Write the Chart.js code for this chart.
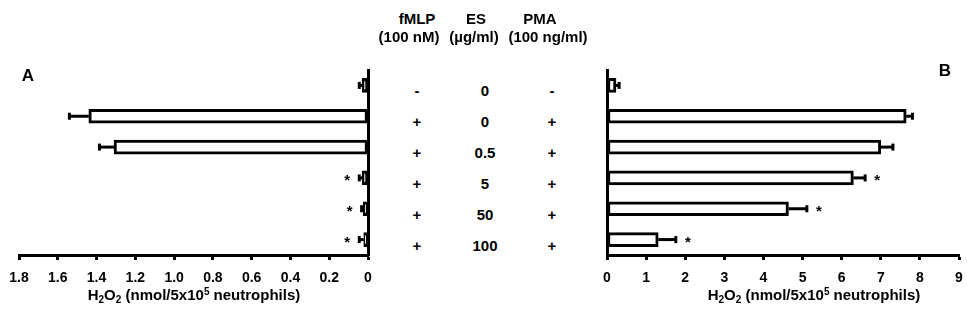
<!DOCTYPE html>
<html>
<head>
<meta charset="utf-8">
<script src="https://cdn.jsdelivr.net/npm/chart.js@4"></script>
<style>
  body { margin: 0; background: #fff; }
  #wrap { position: relative; width: 967px; height: 327px; font-family: "Liberation Sans", Arial, sans-serif; }
  canvas { position: absolute; top: 0; }
  #chartA { left: 0; }
  #chartB { left: 585px; }
  .cell { position: absolute; transform: translate(-50%, -50%); font-weight: bold; font-size: 15px; color: #000; white-space: nowrap; line-height: 1; }
</style>
</head>
<body>
<div id="wrap">
  <canvas id="chartA" width="385" height="327"></canvas>
  <canvas id="chartB" width="382" height="327"></canvas>
</div>
<script>
const categories = ['Control', 'ES 0', 'ES 0.5', 'ES 5', 'ES 50', 'ES 100'];

// panel A (left, reversed axis)
const valuesA = [0.03, 1.44, 1.31, 0.03, 0.025, 0.022];
const errorsA = [0.015, 0.10, 0.075, 0.015, 0.008, 0.023];
const sigA = [false, false, false, true, true, true];
const tickValuesA = [0, 0.2, 0.4, 0.6, 0.8, 1.0, 1.2, 1.4, 1.6, 1.8];
const tickLabelsA = ['0', '0.2', '0.4', '0.6', '0.8', '1.0', '1.2', '1.4', '1.6', '1.8'];

// panel B (right)
const valuesB = [0.23, 7.65, 7.0, 6.30, 4.64, 1.31];
const errorsB = [0.08, 0.16, 0.31, 0.30, 0.47, 0.45];
const sigB = [false, false, false, true, true, true];
const tickValuesB = [0, 1, 2, 3, 4, 5, 6, 7, 8, 9];
const tickLabelsB = ['0', '1', '2', '3', '4', '5', '6', '7', '8', '9'];

// middle table
const colFMLP = ['-', '+', '+', '+', '+', '+'];
const colES = ['0', '0', '0.5', '5', '50', '100'];
const colPMA = ['-', '+', '+', '+', '+', '+'];
const headers = [['fMLP', '(100 nM)'], ['ES', '(\u00b5g/ml)'], ['PMA', '(100 ng/ml)']];

const FONT = '"Liberation Sans", Arial, sans-serif';

// error bars + significance stars
const errorBars = {
  id: 'errorBars',
  afterDatasetsDraw(chart) {
    const ctx = chart.ctx;
    const xs = chart.scales.x;
    chart.data.datasets.forEach((ds, di) => {
      const meta = chart.getDatasetMeta(di);
      meta.data.forEach((bar, i) => {
        const v = ds.data[i];
        const ex = xs.getPixelForValue(v + ds.errors[i]);
        const y = bar.y;
        ctx.save();
        ctx.strokeStyle = '#000';
        ctx.lineWidth = 3;
        ctx.beginPath();
        ctx.moveTo(bar.x, y);
        ctx.lineTo(ex, y);
        ctx.stroke();
        ctx.beginPath();
        ctx.moveTo(ex, y - 3.5);
        ctx.lineTo(ex, y + 3.5);
        ctx.stroke();
        if (ds.sig[i]) {
          const dir = ex < bar.base ? -1 : 1;
          ctx.fillStyle = '#000';
          ctx.font = 'bold 15px ' + FONT;
          ctx.textAlign = 'center';
          ctx.textBaseline = 'middle';
          ctx.fillText('*', ex + dir * 12, y + 3);
        }
        ctx.restore();
      });
    });
  }
};

// axis title with sub/superscripts and panel letter
const decor = {
  id: 'decor',
  afterDraw(chart, args, opts) {
    const ctx = chart.ctx;
    ctx.save();
    ctx.fillStyle = '#000';
    ctx.textBaseline = 'alphabetic';
    ctx.textAlign = 'left';
    const parts = [['H', 0], ['2', 1], ['O', 0], ['2', 1], [' (nmol/5x10', 0], ['5', -1], [' neutrophils)', 0]];
    const big = 'bold 15px ' + FONT, small = 'bold 10px ' + FONT;
    let w = 0;
    parts.forEach(p => { ctx.font = p[1] ? small : big; w += ctx.measureText(p[0]).width; });
    let x = opts.titleX - w / 2;
    parts.forEach(p => {
      ctx.font = p[1] ? small : big;
      const dy = p[1] === 1 ? 3 : (p[1] === -1 ? -5 : 0);
      ctx.fillText(p[0], x, opts.titleY + dy);
      x += ctx.measureText(p[0]).width;
    });
    ctx.font = 'bold 17px ' + FONT;
    ctx.textBaseline = 'middle';
    ctx.textAlign = 'center';
    ctx.fillText(opts.letter, opts.letterX, opts.letterY);
    ctx.restore();
  }
};

function makeChart(id, values, errors, sig, tickValues, tickLabels, max, reverse, yPos, padding, decorOpts) {
  return new Chart(document.getElementById(id), {
    type: 'bar',
    data: {
      labels: categories,
      datasets: [{
        data: values,
        errors: errors,
        sig: sig,
        backgroundColor: '#fff',
        borderColor: '#000',
        borderWidth: 3,
        borderSkipped: false,
        barThickness: 14
      }]
    },
    options: {
      indexAxis: 'y',
      responsive: false,
      animation: false,
      layout: { padding: padding },
      plugins: { legend: { display: false }, tooltip: { enabled: false }, decor: decorOpts },
      scales: {
        x: {
          min: 0,
          max: max,
          reverse: reverse,
          afterBuildTicks: (s) => { s.ticks = tickValues.map(v => ({ value: v })); },
          afterFit: (s) => { s.height = 72; s.paddingLeft = 0; s.paddingRight = 0; },
          border: { display: true, color: '#000', width: 3 },
          grid: { display: true, drawOnChartArea: false, drawTicks: true, tickLength: 5, tickWidth: 3, tickColor: '#000' },
          ticks: {
            padding: 10,
            color: '#000',
            font: { family: FONT, size: 14, weight: 'bold' },
            maxRotation: 0,
            autoSkip: false,
            callback: (v, i) => tickLabels[i]
          }
        },
        y: {
          position: yPos,
          afterFit: (s) => { s.width = 0; },
          border: { display: true, color: '#000', width: 3 },
          grid: { display: false },
          ticks: { display: false }
        }
      }
    },
    plugins: [errorBars, decor]
  });
}

const chartA = makeChart('chartA', valuesA, errorsA, sigA, tickValuesA, tickLabelsA, 1.8, true, 'right',
  { left: 19, right: 17, top: 70, bottom: 0 },
  { titleX: 194, titleY: 300, letter: 'A', letterX: 28, letterY: 76 });
const chartB = makeChart('chartB', valuesB, errorsB, sigB, tickValuesB, tickLabelsB, 9, false, 'left',
  { left: 22, right: 8, top: 70, bottom: 0 },
  { titleX: 229, titleY: 300, letter: 'B', letterX: 360, letterY: 71 });

// middle table, rows placed on chart A's category scale
const wrap = document.getElementById('wrap');
function addCell(text, x, y) {
  const d = document.createElement('div');
  d.className = 'cell';
  d.textContent = text;
  d.style.left = x + 'px';
  d.style.top = y + 'px';
  wrap.appendChild(d);
}
const headX = [[417, 409], [476, 474], [540, 548]];
headers.forEach((h, c) => { addCell(h[0], headX[c][0], 18); addCell(h[1], headX[c][1], 36); });
const colX = [417, 485, 552];
categories.forEach((cat, i) => {
  const y = chartA.scales.y.getPixelForValue(i) + 5;
  addCell(colFMLP[i], colX[0], y);
  addCell(colES[i], colX[1], y);
  addCell(colPMA[i], colX[2], y);
});
</script>
</body>
</html>
